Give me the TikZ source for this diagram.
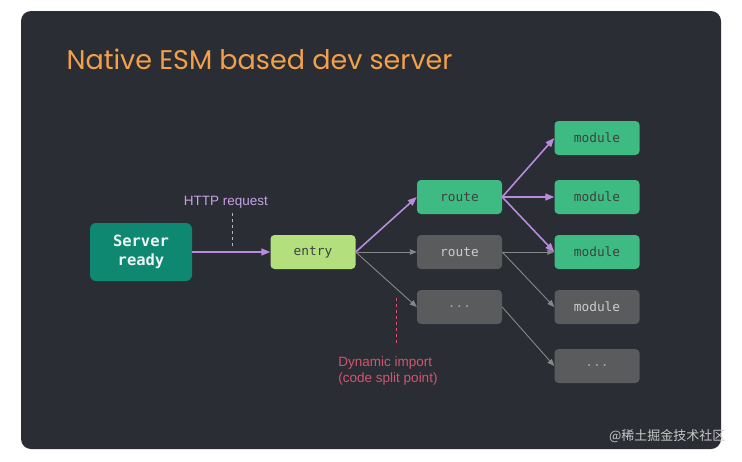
\documentclass[tikz,border=0pt]{standalone}
\usepackage{fontspec}
\setmainfont{Liberation Sans}
\setmonofont{DejaVu Sans Mono}
\newfontfamily\titlefont{Poppins}
\newfontfamily\cjk{Noto Sans CJK SC}
\usetikzlibrary{arrows.meta,positioning}
\definecolor{panelColor}{HTML}{2A2D34}
\definecolor{titleColor}{HTML}{F2A04A}
\definecolor{hotColor}{HTML}{B98BDD}
\definecolor{coldColor}{HTML}{85878C}
\definecolor{serverColor}{HTML}{0E8870}
\definecolor{entryColor}{HTML}{B3E07C}
\definecolor{liveColor}{HTML}{3DBB82}
\definecolor{idleColor}{HTML}{5A5B5C}
\definecolor{splitColor}{HTML}{D2566E}
\tikzset{
	box/.style={rounded corners=4pt, minimum width=85pt, minimum height=34pt,
		inner sep=0pt, font=\ttfamily\fontsize{12.8}{14}\selectfont},
	livebox/.style={box, fill=liveColor, text=black!75},
	idlebox/.style={box, fill=idleColor, text=white!80!black},
	hot/.style={-{Triangle[length=9pt,width=7pt]}, draw=hotColor, line width=1.6pt},
	cold/.style={-{Triangle[length=7pt,width=5.5pt]}, draw=coldColor, line width=0.9pt}
}

\begin{document}
\begin{tikzpicture}[x=1pt, y=-1pt]
\useasboundingbox (0,0) rectangle (742,461);
\fill[white] (0,0) rectangle (742,461);
\fill[panelColor, rounded corners=10pt] (21,11) rectangle (721,449);

\node[anchor=base west, text=titleColor, font=\titlefont\fontsize{27}{30}\selectfont] (title) at (63,69) {Native ESM based dev server};

% first column
\node[box, fill=serverColor, text=white!92!serverColor, minimum width=102pt, minimum height=58pt, rounded corners=6pt, font=\ttfamily\bfseries\fontsize{15.5}{19}\selectfont, align=center] (server) at (141,252) {Server\\ready};
\node[box, fill=entryColor, text=black!75] (entry) at (313,252) {entry};

% routes
\node[livebox] (r1) at (459.5,197) {route};
\node[idlebox] (r2) at (459.5,252) {route};
\node[idlebox, text=white!45!idleColor] (r3) at (459.5,307) {...};

% modules
\node[livebox] (m1) at (597,138) {module};
\node[livebox] (m2) at (597,197) {module};
\node[livebox] (m3) at (597,252) {module};
\node[idlebox] (m4) at (597,307) {module};
\node[idlebox, text=white!45!idleColor] (m5) at (597,366) {...};

% labels
\node[text=hotColor!80!white, font=\fontsize{13.5}{16}\selectfont] (http) at (226,202) {HTTP request};
\node[text=splitColor, font=\fontsize{13.5}{16}\selectfont, align=left] (split) at (388,371) {Dynamic import\\(code split point)};
\node[text=white!78!black, font=\cjk\fontsize{13}{15}\selectfont, anchor=east] (mark) at (729,436) {@稀土掘金技术社区};

\coordinate (httpTop) at (232,213);
\coordinate (httpBot) at (232,248);
\coordinate (splitTop) at (396,298);
\coordinate (splitBot) at (396,346);
\draw[white!65!panelColor, dashed, line width=0.8pt] (httpTop) -- (httpBot);
\draw[splitColor, dashed, line width=0.8pt] (splitTop) -- (splitBot);

% connectors
\draw[hot] (server) -- (entry);
\draw[hot] (entry.east) -- (r1.west);
\draw[cold] (entry.east) -- (r2.west);
\draw[cold] (entry.east) -- (r3.west);
\draw[hot] (r1.east) -- (m1.west);
\draw[hot] (r1.east) -- (m2.west);
\draw[hot] (r1.east) -- (m3.west);
\draw[cold] (r2.east) -- (m3.west);
\draw[cold] (r2.east) -- (m4.west);
\draw[cold] (r3.east) -- (m5.west);
\end{tikzpicture}
\end{document}
